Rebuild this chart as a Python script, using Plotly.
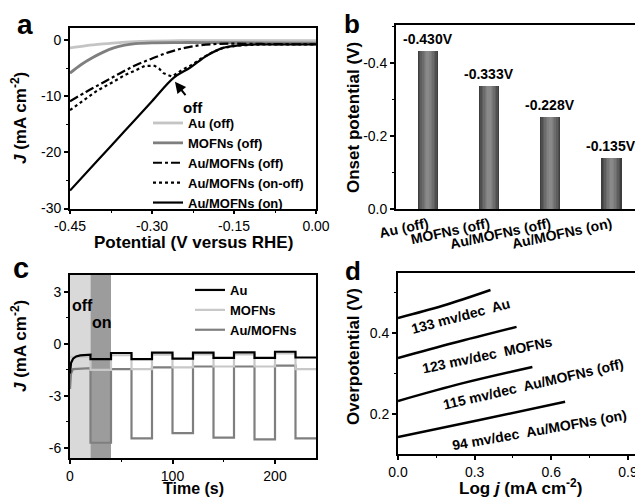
import plotly.graph_objects as go

# The page body has an 8px default margin: size the figure so that the visible
# window (643x497) holds it, and map reference pixels into paper coordinates.
OFF = 8
W, H = 643 - OFF, 497 - OFF
def px(x): return (x - OFF) / W
def py(y): return 1 - (y - OFF) / H

FONT = "Arial, Liberation Sans, sans-serif"

# ---------------- Panel a data (LSV curves) ----------------
a_au_x = [-0.45, -0.42, -0.39, -0.36, -0.33, -0.30, -0.25, -0.20, -0.10, 0.0]
a_au_y = [-1.4, -1.0, -0.7, -0.45, -0.3, -0.2, -0.12, -0.1, -0.1, -0.1]
a_mofn_x = [-0.45, -0.43, -0.41, -0.39, -0.37, -0.35, -0.33, -0.30, -0.25, -0.20, -0.10, 0.0]
a_mofn_y = [-5.9, -4.4, -3.2, -2.2, -1.4, -0.9, -0.65, -0.5, -0.45, -0.45, -0.5, -0.55]
a_off_x = [-0.45, -0.42, -0.39, -0.36, -0.33, -0.30, -0.27, -0.24, -0.21, -0.18, -0.15, -0.10, -0.05, 0.0]
a_off_y = [-10.9, -9.2, -7.6, -6.0, -4.5, -3.3, -2.2, -1.4, -0.9, -0.7, -0.65, -0.7, -0.75, -0.75]
a_onoff_x = [-0.45, -0.42, -0.40, -0.37, -0.35, -0.33, -0.313, -0.295, -0.287, -0.279, -0.27, -0.264,
             -0.255, -0.245, -0.23, -0.21, -0.19, -0.17, -0.14, -0.10, -0.05, 0.0]
a_onoff_y = [-12.5, -10.4, -9.0, -7.4, -6.25, -5.4, -4.6, -4.6, -5.1, -5.9, -6.3, -6.5,
             -6.0, -5.3, -4.6, -3.3, -2.2, -1.4, -0.95, -0.8, -0.8, -0.8]
a_on_x = [-0.45, -0.40, -0.35, -0.30, -0.26, -0.23, -0.20, -0.17, -0.14, -0.11, -0.08, -0.04, 0.0]
a_on_y = [-26.8, -21.5, -16.2, -10.9, -6.7, -4.9, -2.8, -1.4, -0.95, -0.8, -0.8, -0.8, -0.8]
a_xticks = [-0.45, -0.30, -0.15, 0.0]
a_xticklabels = ["-0.45", "-0.30", "-0.15", "0.00"]
a_yticks = [0, -10, -20, -30]
a_yticklabels = ["0", "-10", "-20", "-30"]

# ---------------- Panel b data (onset potentials) ----------------
b_categories = ["Au (off)", "MOFNs (off)", "Au/MOFNs (off)", "Au/MOFNs (on)"]
b_values = [-0.433, -0.337, -0.252, -0.140]
b_labels = ["-0.430V", "-0.333V", "-0.228V", "-0.135V"]
b_yticks = [0, -0.2, -0.4]
b_yticklabels = ["0.0", "-0.2", "-0.4"]

# ---------------- Panel c data (chopped light i-t) ----------------
c_edges = [0, 20, 40, 60, 80, 100, 120, 140, 160, 180, 200, 220, 240]
c_au_levels = [-0.65, -0.87, -0.52, -0.87, -0.50, -0.85, -0.50, -0.80, -0.48, -0.80, -0.45, -0.78]
c_mofn_levels = [-0.75, -1.50, -0.65, -1.45, -0.62, -1.35, -0.60, -1.30, -0.60, -1.30, -0.55, -1.45]
c_aumofn_levels = [-1.40, -5.70, -1.45, -5.45, -1.35, -5.15, -1.30, -5.40, -1.30, -5.50, -1.25, -5.45]
c_au_start_t = [0, 1, 3, 6, 10, 20]
c_au_start_j = [-1.7, -1.1, -0.85, -0.72, -0.66, -0.62]
c_aumofn_start_t = [0, 1, 3, 20]
c_aumofn_start_j = [-2.6, -1.7, -1.45, -1.4]
c_windows = [(0, 20, "off"), (20, 40, "on")]
c_xticks = [0, 100, 200]
c_yticks = [3, 0, -3, -6]
c_yticklabels = ["3", "0", "-3", "-6"]

# ---------------- Panel d data (Tafel) ----------------
d_au_x = [0.0, 0.175, 0.362]
d_au_y = [0.437, 0.467, 0.506]
d_mofn_x = [0.0, 0.216, 0.464]
d_mofn_y = [0.338, 0.375, 0.415]
d_off_x = [0.0, 0.254, 0.526]
d_off_y = [0.232, 0.276, 0.316]
d_on_x = [0.0, 0.319, 0.654]
d_on_y = [0.143, 0.185, 0.230]
d_labels = ["133 mv/dec  Au", "123 mv/dec  MOFNs", "115 mv/dec  Au/MOFNs (off)", "94 mv/dec  Au/MOFNs (on)"]
d_label_x = [0.245, 0.347, 0.53, 0.553]
d_label_y = [0.442, 0.346, 0.274, 0.160]
d_label_angle = [-15, -12, -13, -10]
d_xticks = [0.0, 0.3, 0.6, 0.9]
d_xticklabels = ["0.0", "0.3", "0.6", "0.9"]
d_yticks = [0.2, 0.4]
d_yticklabels = ["0.2", "0.4"]


def steps(edges, levels, t0=None, j0=None):
    t, j = [], []
    start = 0
    if t0 is not None:
        t += list(t0)
        j += list(j0)
        start = 1
    for i in range(start, len(levels)):
        t += [edges[i], edges[i + 1]]
        j += [levels[i], levels[i]]
    return t, j


fig = go.Figure()

# Panel a traces
LW = 2.2
fig.add_trace(go.Scatter(x=a_au_x, y=a_au_y, mode="lines", name="Au (off)",
                         line=dict(color="#c4c4c4", width=2.8, shape="spline"), xaxis="x", yaxis="y", legend="legend"))
fig.add_trace(go.Scatter(x=a_mofn_x, y=a_mofn_y, mode="lines", name="MOFNs (off)",
                         line=dict(color="#7f7f7f", width=2.8, shape="spline"), xaxis="x", yaxis="y", legend="legend"))
fig.add_trace(go.Scatter(x=a_off_x, y=a_off_y, mode="lines", name="Au/MOFNs (off)",
                         line=dict(color="black", width=LW, dash="dashdot", shape="spline"), xaxis="x", yaxis="y", legend="legend"))
fig.add_trace(go.Scatter(x=a_onoff_x, y=a_onoff_y, mode="lines", name="Au/MOFNs (on-off)",
                         line=dict(color="black", width=LW, dash="dot"), xaxis="x", yaxis="y", legend="legend"))
fig.add_trace(go.Scatter(x=a_on_x, y=a_on_y, mode="lines", name="Au/MOFNs (on)",
                         line=dict(color="black", width=LW, shape="spline"), xaxis="x", yaxis="y", legend="legend"))

# Panel b bars (layered to mimic cylinder shading)
layer_widths = [0.33, 0.29, 0.24, 0.19, 0.14, 0.09, 0.05]
layer_colors = ["#3e3e3e", "#4f4f4f", "#5e5e5e", "#6c6c6c", "#777777", "#818181", "#898989"]
for w, c in zip(layer_widths, layer_colors):
    fig.add_trace(go.Bar(x=b_categories, y=b_values, width=w, marker=dict(color=c, line=dict(width=0)),
                         xaxis="x2", yaxis="y2", showlegend=False, hoverinfo="skip"))

# Panel c traces
t_am, j_am = steps(c_edges, c_aumofn_levels, c_aumofn_start_t, c_aumofn_start_j)
t_m, j_m = steps(c_edges, c_mofn_levels)
t_a, j_a = steps(c_edges, c_au_levels, c_au_start_t, c_au_start_j)
fig.add_trace(go.Scatter(x=t_am, y=j_am, mode="lines", name="Au/MOFNs", legendrank=3,
                         line=dict(color="#7f7f7f", width=2.2), xaxis="x3", yaxis="y3", legend="legend2"))
fig.add_trace(go.Scatter(x=t_m, y=j_m, mode="lines", name="MOFNs", legendrank=2,
                         line=dict(color="#c8c8c8", width=2.2), xaxis="x3", yaxis="y3", legend="legend2"))
fig.add_trace(go.Scatter(x=t_a, y=j_a, mode="lines", name="Au", legendrank=1,
                         line=dict(color="black", width=2.2), xaxis="x3", yaxis="y3", legend="legend2"))

# Panel d traces
for xs, ys in [(d_au_x, d_au_y), (d_mofn_x, d_mofn_y), (d_off_x, d_off_y), (d_on_x, d_on_y)]:
    fig.add_trace(go.Scatter(x=xs, y=ys, mode="lines", line=dict(color="black", width=2.5, shape="spline"),
                             xaxis="x4", yaxis="y4", showlegend=False))

tickfont = dict(family=FONT, size=14, color="black")
common = dict(showline=True, linecolor="black", linewidth=1.8, mirror=True, ticks="outside",
              ticklen=4, tickwidth=1.5, tickcolor="black", showgrid=False, zeroline=False, tickfont=tickfont,
              automargin=False)
minor = lambda d, t0=0: dict(ticks="outside", ticklen=2.5, tickwidth=1.2, tickcolor="black", tickmode="linear", tick0=t0, dtick=d)

fig.update_layout(
    width=W, height=H, margin=dict(l=0, r=0, t=0, b=0, pad=0, autoexpand=False),
    paper_bgcolor="white", plot_bgcolor="white", barmode="overlay", bargap=0,
    font=dict(family=FONT, color="black"),
    xaxis=dict(domain=[px(70), px(316)], range=[-0.45, 0.0], tickmode="array", tickvals=a_xticks,
               ticktext=a_xticklabels, minor=minor(0.075, -0.45), anchor="y", **common),
    yaxis=dict(domain=[py(208.5), py(28)], range=[-30, 2.14], tickmode="array", tickvals=a_yticks,
               ticktext=a_yticklabels, minor=minor(5, 0), anchor="x", **common),
    xaxis2=dict(domain=[px(396), px(642)], range=[-0.52, 3.5], anchor="y2", type="category",
                **{**common, "ticks": "", "tickangle": -12,
                   "tickfont": dict(family=FONT, size=14, color="black", weight="bold")}),
    yaxis2=dict(domain=[py(209), py(25)], range=[0, -0.504], tickmode="array", tickvals=b_yticks,
                ticktext=b_yticklabels, minor=minor(0.1, 0), anchor="x2", **common),
    xaxis3=dict(domain=[px(70), px(316)], range=[0, 240], tickmode="array", tickvals=c_xticks,
                minor=minor(50, 0), anchor="y3", **common),
    yaxis3=dict(domain=[py(458), py(275)], range=[-6.58, 3.98], tickmode="array", tickvals=c_yticks,
                ticktext=c_yticklabels, minor=minor(1.5, 0), anchor="x3", **common),
    xaxis4=dict(domain=[px(398), px(642)], range=[0, 0.955], tickmode="array", tickvals=d_xticks,
                ticktext=d_xticklabels, minor=minor(0.15, 0), anchor="y4", **common),
    yaxis4=dict(domain=[py(454), py(273)], range=[0.101, 0.548], tickmode="array", tickvals=d_yticks,
                ticktext=d_yticklabels, minor=minor(0.1, 0), anchor="x4", **common),
    legend=dict(x=px(148), y=py(108), xanchor="left", yanchor="top", bgcolor="rgba(0,0,0,0)",
                font=dict(family=FONT, size=13, color="black", weight="bold"), tracegroupgap=0,
                itemwidth=30, borderwidth=0),
    legend2=dict(x=px(190), y=py(275), xanchor="left", yanchor="top", bgcolor="rgba(0,0,0,0)",
                 font=dict(family=FONT, size=13, color="black", weight="bold"), tracegroupgap=0,
                 itemwidth=30, borderwidth=0, traceorder="normal"),
)

# shaded windows in c
window_colors = {"off": "#d9d9d9", "on": "#9c9c9c"}
for t0, t1, lab in c_windows:
    fig.add_shape(type="rect", xref="x3", yref="y3", x0=t0, x1=t1, y0=-6.58, y1=3.98,
                  fillcolor=window_colors[lab], line=dict(width=0), layer="below")

ann = []
bold = lambda s: dict(family=FONT, size=s, color="black", weight="bold")
# panel letters
for txt, x, y, s in [("a", 25, 25, 28), ("b", 352, 24, 26), ("c", 21, 268, 29), ("d", 353, 271, 26)]:
    ann.append(dict(text=txt, x=px(x), y=py(y), xref="paper", yref="paper", showarrow=False,
                    xanchor="center", yanchor="middle", font=bold(s)))
# axis titles
titles = [
    ("Potential (V versus RHE)", 193, 242, 0, 17),
    ("<i>J</i> (mA cm<sup>-2</sup>)", 19, 118, -90, 17),
    ("Onset potential (V)", 354, 118, -90, 17),
    ("Time (s)", 193, 488, 0, 16),
    ("<i>J</i> (mA cm<sup>-2</sup>)", 19, 346, -90, 17),
    ("Overpotential (V)", 353, 357, -90, 17),
    ("Log <i>j</i> (mA cm<sup>-2</sup>)", 520, 487, 0, 17),
]
for txt, x, y, ang, fs in titles:
    ann.append(dict(text=txt, x=px(x), y=py(y), xref="paper", yref="paper", showarrow=False,
                    xanchor="center", yanchor="middle", textangle=ang, font=bold(fs)))
# bar value labels
for cat, v, lab in zip(b_categories, b_values, b_labels):
    ann.append(dict(text=lab, x=cat, y=v, xref="x2", yref="y2", showarrow=False, yanchor="bottom",
                    xanchor="center", yshift=2, font=bold(14)))
# arrow + "off" in a
ann.append(dict(text="", x=-0.258, y=-7.45, ax=-0.2365, ay=-10.1, xref="x", yref="y", axref="x", ayref="y",
                showarrow=True, arrowhead=2, arrowsize=1.1, arrowwidth=2, arrowcolor="black"))
ann.append(dict(text="off", x=-0.225, y=-12.0, xref="x", yref="y", showarrow=False,
                xanchor="center", yanchor="middle", font=bold(15)))
# off/on in c
ann.append(dict(text="off", x=px(82), y=py(305), xref="paper", yref="paper", showarrow=False,
                xanchor="center", yanchor="middle", font=bold(16)))
ann.append(dict(text="on", x=px(102), y=py(322), xref="paper", yref="paper", showarrow=False,
                xanchor="center", yanchor="middle", font=bold(16)))
# Tafel slopes in d
for txt, x, y, a in zip(d_labels, d_label_x, d_label_y, d_label_angle):
    ann.append(dict(text=txt, x=x, y=y, xref="x4", yref="y4", showarrow=False, textangle=a,
                    xanchor="center", yanchor="middle", font=bold(14)))
fig.update_layout(annotations=ann)

fig.write_html("out.html")
